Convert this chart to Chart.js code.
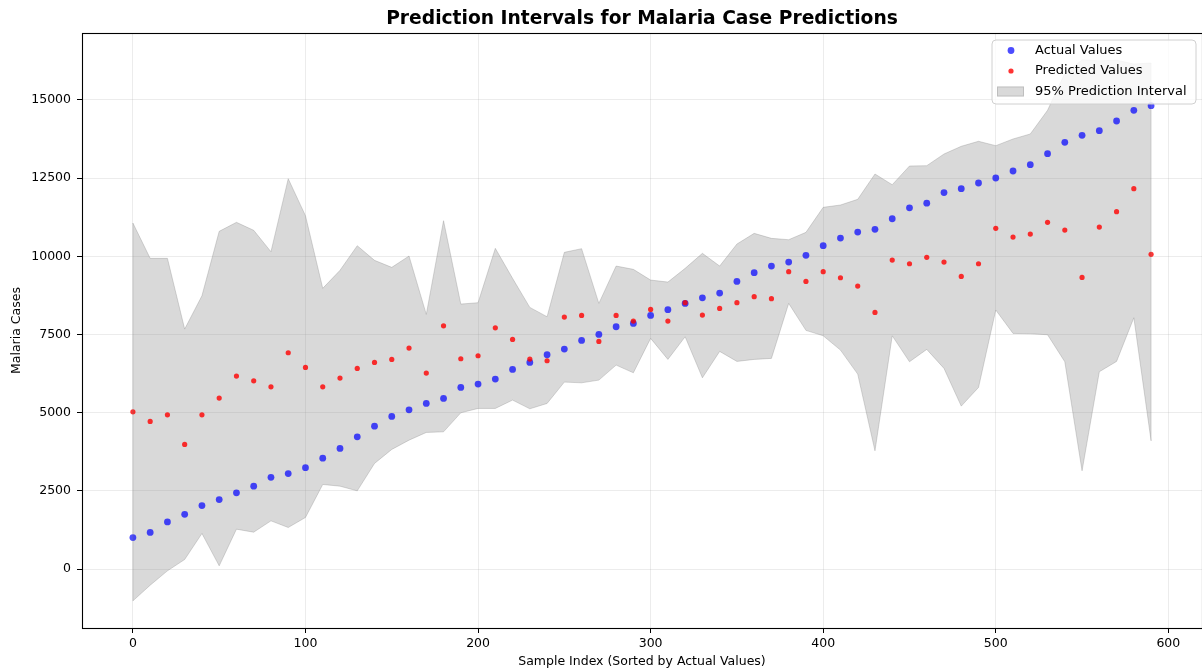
<!DOCTYPE html>
<html>
<head>
<meta charset="utf-8">
<title>Prediction Intervals for Malaria Case Predictions</title>
<script src="https://cdn.jsdelivr.net/npm/chart.js@4.4.1/dist/chart.umd.min.js"></script>
<style>
  html, body { margin: 0; padding: 0; background: #ffffff; }
  #wrap { width: 1202px; height: 669px; }
</style>
</head>
<body>
<div id="wrap"><canvas id="chart" width="1202" height="669"></canvas></div>
<script>
// Sample positions (sorted by actual value)
const sampleIndex = [0, 10, 20, 30, 40, 50, 60, 70, 80, 90,
  100, 110, 120, 130, 140, 150, 160, 170, 180, 190,
  200, 210, 220, 230, 240, 250, 260, 270, 280, 290,
  300, 310, 320, 330, 340, 350, 360, 370, 380, 390,
  400, 410, 420, 430, 440, 450, 460, 470, 480, 490,
  500, 510, 520, 530, 540, 550, 560, 570, 580, 590];

// Observed malaria cases
const actualCases = [1010, 1175, 1510, 1755, 2035, 2225, 2440, 2655, 2935, 3055,
  3245, 3550, 3860, 4230, 4573, 4883, 5095, 5298, 5460, 5810,
  5916, 6076, 6386, 6610, 6855, 7036, 7313, 7505, 7750, 7857,
  8113, 8295, 8497, 8676, 8826, 9200, 9477, 9690, 9818, 10032,
  10340, 10585, 10777, 10863, 11203, 11550, 11700, 12040, 12163, 12345,
  12505, 12729, 12931, 13283, 13646, 13870, 14017, 14327, 14669, 14817];

// Model predictions
const predictedCases = [5031, 4723, 4935, 3987, 4935, 5469, 6172, 6022, 5830, 6918,
  6450, 5830, 6108, 6418, 6610, 6706, 7067, 6268, 7781, 6727,
  6823, 7717, 7346, 6716, 6663, 8059, 8113, 7282, 8113, 7931,
  8305, 7931, 8518, 8123, 8337, 8518, 8710, 8646, 9509, 9200,
  9509, 9317, 9050, 8209, 9882, 9764, 9968, 9818, 9360, 9764,
  10895, 10617, 10713, 11087, 10841, 9328, 10937, 11427, 12163, 10064];

// 95% prediction interval bounds
const upperBound = [11065, 9936, 9936, 7675, 8740, 10800, 11087, 10832, 10148, 12482,
  11299, 8977, 9553, 10340, 9872, 9648, 10010, 8145, 11139, 8475,
  8518, 10256, 9297, 8369, 8070, 10128, 10245, 8497, 9690, 9584,
  9242, 9178, 9616, 10096, 9690, 10394, 10735, 10575, 10532, 10767,
  11567, 11641, 11823, 12632, 12290, 12888, 12898, 13272, 13518, 13678,
  13538, 13752, 13912, 14669, 15850, 16280, 16250, 16270, 16150, 16180];

const lowerBound = [-1013, -512, -53, 310, 1141, 107, 1279, 1183, 1545, 1333,
  1653, 2708, 2654, 2504, 3380, 3828, 4125, 4371, 4391, 4999,
  5139, 5139, 5405, 5127, 5298, 5980, 5958, 6044, 6524, 6278,
  7378, 6706, 7429, 6118, 6962, 6642, 6706, 6738, 8497, 7634,
  7461, 7004, 6236, 3785, 7461, 6631, 7026, 6418, 5213, 5810,
  8283, 7537, 7527, 7494, 6631, 3145, 6311, 6642, 8038, 4104];

// Axis ticks
const xTickValues = [0, 100, 200, 300, 400, 500, 600];
const yTickValues = [0, 2500, 5000, 7500, 10000, 12500, 15000];

const CHART_TITLE = 'Prediction Intervals for Malaria Case Predictions';
const FONT = 'DejaVu Sans';
const BLUE = 'rgba(0, 0, 255, 0.7)';
const RED = 'rgba(255, 0, 0, 0.8)';
const BAND = 'rgba(128, 128, 128, 0.3)';
const GRID = 'rgba(176, 176, 176, 0.3)';

const toPoints = values => sampleIndex.map((x, i) => ({ x: x, y: values[i] }));

// Title centred over the axes, axes frame, band end edges and the legend box
const framePlugin = {
  id: 'frameAndLegend',
  afterDatasetsDraw(chart) {
    const { ctx, chartArea: a, scales: { x, y } } = chart;
    ctx.save();
    // closing edges of the interval band
    ctx.strokeStyle = BAND;
    ctx.lineWidth = 1;
    [0, sampleIndex.length - 1].forEach(i => {
      const px = x.getPixelForValue(sampleIndex[i]);
      ctx.beginPath();
      ctx.moveTo(px, y.getPixelForValue(upperBound[i]));
      ctx.lineTo(px, y.getPixelForValue(lowerBound[i]));
      ctx.stroke();
    });
    // spines
    ctx.strokeStyle = '#000000';
    ctx.lineWidth = 1.1;
    ctx.strokeRect(Math.round(a.left) + 0.5, Math.round(a.top) + 0.5,
      Math.round(a.right) - Math.round(a.left), Math.round(a.bottom) - Math.round(a.top));
    ctx.restore();
  },
  afterDraw(chart) {
    const { ctx, chartArea: a } = chart;
    const ds = chart.data.datasets;
    ctx.save();
    // title
    ctx.fillStyle = '#000000';
    ctx.font = 'bold 18.7px "' + FONT + '"';
    ctx.textAlign = 'center';
    ctx.textBaseline = 'middle';
    ctx.fillText(CHART_TITLE, (a.left + a.right) / 2, 19.5);

    // legend
    const bx = 992, by = 40, bw = 204, bh = 64, r = 4;
    ctx.beginPath();
    ctx.moveTo(bx + r, by);
    ctx.arcTo(bx + bw, by, bx + bw, by + bh, r);
    ctx.arcTo(bx + bw, by + bh, bx, by + bh, r);
    ctx.arcTo(bx, by + bh, bx, by, r);
    ctx.arcTo(bx, by, bx + bw, by, r);
    ctx.closePath();
    ctx.fillStyle = 'rgba(255, 255, 255, 0.8)';
    ctx.fill();
    ctx.strokeStyle = '#d0d0d0';
    ctx.lineWidth = 1;
    ctx.stroke();

    const rows = [50.5, 71, 91.5];
    const mx = 1011;
    ctx.fillStyle = BLUE;
    ctx.beginPath(); ctx.arc(mx, rows[0], 3.4, 0, Math.PI * 2); ctx.fill();
    ctx.fillStyle = RED;
    ctx.beginPath(); ctx.arc(mx, rows[1], 2.6, 0, Math.PI * 2); ctx.fill();
    ctx.fillStyle = BAND;
    ctx.fillRect(997, rows[2] - 5, 27, 10);
    ctx.strokeStyle = BAND;
    ctx.strokeRect(997.5, rows[2] - 4.5, 26, 9);

    ctx.fillStyle = '#000000';
    ctx.font = '13px "' + FONT + '"';
    ctx.textAlign = 'left';
    ctx.textBaseline = 'middle';
    for (let i = 0; i < 3; i++) ctx.fillText(ds[i].label, 1035, rows[i]);
    ctx.restore();
  }
};

const tickFont = { family: FONT, size: 12.5 };

new Chart(document.getElementById('chart').getContext('2d'), {
  type: 'line',
  data: {
    datasets: [
      {
        label: 'Actual Values',
        data: toPoints(actualCases),
        showLine: false,
        pointRadius: 3.4,
        pointBackgroundColor: BLUE,
        pointBorderColor: BLUE,
        pointBorderWidth: 0,
        order: 1
      },
      {
        label: 'Predicted Values',
        data: toPoints(predictedCases),
        showLine: false,
        pointRadius: 2.6,
        pointBackgroundColor: RED,
        pointBorderColor: RED,
        pointBorderWidth: 0,
        order: 0
      },
      {
        label: '95% Prediction Interval',
        data: toPoints(upperBound),
        fill: '+1',
        backgroundColor: BAND,
        borderColor: BAND,
        borderWidth: 1,
        pointRadius: 0,
        tension: 0,
        order: 2
      },
      {
        label: 'Lower bound',
        data: toPoints(lowerBound),
        fill: false,
        borderColor: BAND,
        borderWidth: 1,
        pointRadius: 0,
        tension: 0,
        order: 3
      }
    ]
  },
  options: {
    responsive: false,
    animation: false,
    devicePixelRatio: 1,
    events: [],
    layout: { autoPadding: false, padding: { left: 0, right: 0, top: 33, bottom: 0 } },
    plugins: {
      legend: { display: false },
      tooltip: { enabled: false },
      title: { display: false }
    },
    scales: {
      x: {
        type: 'linear',
        bounds: 'data',
        min: -29.5,
        max: 619.5,
        afterBuildTicks: s => { s.ticks = xTickValues.map(v => ({ value: v })); },
        afterFit: s => { s.height = 41; s.paddingLeft = 0; s.paddingRight = 0; },
        ticks: {
          color: '#000000',
          font: tickFont,
          padding: 3,
          autoSkip: false,
          maxRotation: 0,
          callback: v => String(v)
        },
        grid: {
          color: GRID,
          lineWidth: 0.8,
          tickColor: '#000000',
          tickLength: 5,
          tickWidth: 1
        },
        border: { display: false },
        title: {
          display: true,
          text: 'Sample Index (Sorted by Actual Values)',
          color: '#000000',
          font: tickFont,
          padding: { top: 0, bottom: 0 }
        }
      },
      y: {
        type: 'linear',
        bounds: 'data',
        min: -1880,
        max: 17140,
        afterBuildTicks: s => { s.ticks = yTickValues.map(v => ({ value: v })); },
        afterFit: s => { s.width = 82; s.paddingTop = 0; s.paddingBottom = 0; },
        ticks: {
          color: '#000000',
          font: tickFont,
          padding: 6,
          autoSkip: false,
          callback: v => String(v)
        },
        grid: {
          color: GRID,
          lineWidth: 0.8,
          tickColor: '#000000',
          tickLength: 5,
          tickWidth: 1
        },
        border: { display: false },
        title: {
          display: true,
          text: 'Malaria Cases',
          color: '#000000',
          font: tickFont,
          padding: { top: 9, bottom: 0 }
        }
      }
    }
  },
  plugins: [framePlugin]
});
</script>
</body>
</html>
